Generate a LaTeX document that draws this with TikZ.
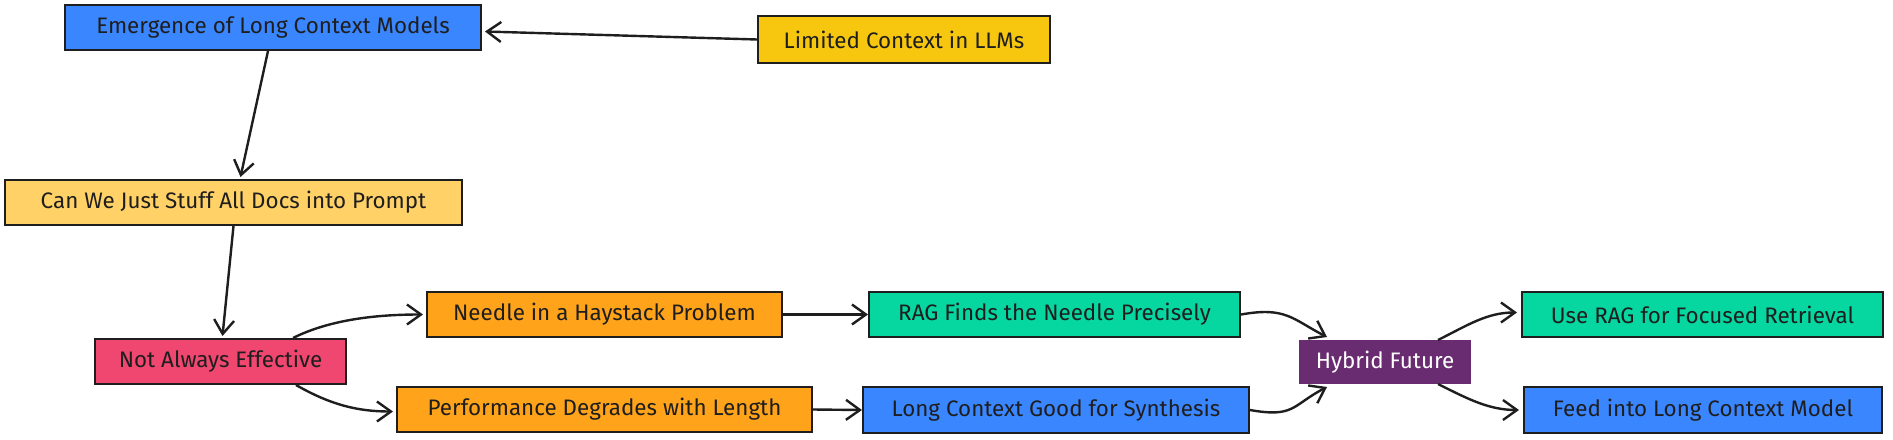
\documentclass[tikz,border=0pt]{standalone}
\usepackage{fontspec}
\setmainfont{Fira Sans}
\usetikzlibrary{arrows.meta,calc}
\definecolor{cblue}{HTML}{3A86FF}
\definecolor{cgold}{HTML}{F7C70F}
\definecolor{clight}{HTML}{FFD166}
\definecolor{cpink}{HTML}{EF476F}
\definecolor{corange}{HTML}{FFA31A}
\definecolor{cgreen}{HTML}{06D6A0}
\definecolor{cpurple}{HTML}{6A2C70}
\definecolor{ink}{HTML}{1E1E1E}
\tikzset{
  box/.style={draw=ink, line width=1pt, inner sep=0pt, text=ink,
    font=\fontsize{11.2}{13}\selectfont, align=center},
  arr/.style={draw=ink, line width=1.2pt,
    -{Straight Barb[length=7pt,width=10pt,line width=1.2pt]}},
}
\begin{document}
\begin{tikzpicture}[x=0.5pt,y=-0.5pt]
\useasboundingbox (0,0) rectangle (1893,439);
\node[box, fill=cblue, minimum width=208pt, minimum height=22.5pt] (em) at (273,27.5) {Emergence of Long Context Models};
\node[box, fill=cgold, minimum width=146pt, minimum height=23.5pt] (lim) at (904,39.5) {Limited Context in LLMs};
\node[box, fill=clight, minimum width=228.5pt, minimum height=22.5pt] (cw) at (233.5,202.5) {Can We Just Stuff All Docs into Prompt};
\node[box, fill=cpink, minimum width=125.5pt, minimum height=22.5pt] (na) at (220.5,361.5) {Not Always Effective};
\node[box, fill=corange, minimum width=177.5pt, minimum height=22.5pt] (nd) at (604.5,314.5) {Needle in a Haystack Problem};
\node[box, fill=corange, minimum width=207.5pt, minimum height=22.5pt] (pf) at (604.5,409.5) {Performance Degrades with Length};
\node[box, fill=cgreen, minimum width=185.5pt, minimum height=22.5pt] (rg) at (1054.5,314.5) {RAG Finds the Needle Precisely};
\node[box, fill=cblue, minimum width=193pt, minimum height=23pt] (lg) at (1056,410) {Long Context Good for Synthesis};
\node[box, fill=cpurple, draw=cpurple, text=white, minimum width=85pt, minimum height=21pt] (hy) at (1385,362) {Hybrid Future};
\node[box, fill=cgreen, minimum width=180.5pt, minimum height=22.5pt] (ur) at (1702.5,314.5) {Use RAG for Focused Retrieval};
\node[box, fill=cblue, minimum width=179pt, minimum height=23pt] (fd) at (1703,410) {Feed into Long Context Model};

\draw[arr] (lim.west) -- ($(em.east)+(3,4)$);
\draw[arr] ($(em.south)+(-5,0)$) -- ($(cw.north)+(7,-2)$);
\draw[arr] (cw.south) -- ($(na.north)+(2,-2)$);
\draw[arr] ($(na.north east)+(-54,0)$) .. controls +(40,-20) and +(-40,0) .. ($(nd.west)+(-3,0)$);
\draw[arr] ($(na.south east)+(-51,0)$) .. controls +(35,20) and +(-35,0) .. ($(pf.west)+(-3,2)$);
\draw[arr] (nd.east) -- (rg.west);
\draw[arr] (pf.east) -- (lg.west);
\draw[arr] (rg.east) .. controls +(45,-8) and +(-35,-18) .. ($(hy.north west)+(28,-3)$);
\draw[arr] (lg.east) .. controls +(45,8) and +(-35,18) .. ($(hy.south west)+(28,3)$);
\draw[arr] ($(hy.north east)+(-33,0)$) .. controls +(30,-15) and +(-30,0) .. ($(ur.west)+(-4,-2)$);
\draw[arr] ($(hy.south east)+(-33,0)$) .. controls +(30,15) and +(-30,0) .. ($(fd.west)+(-4,0)$);
\end{tikzpicture}
\end{document}
